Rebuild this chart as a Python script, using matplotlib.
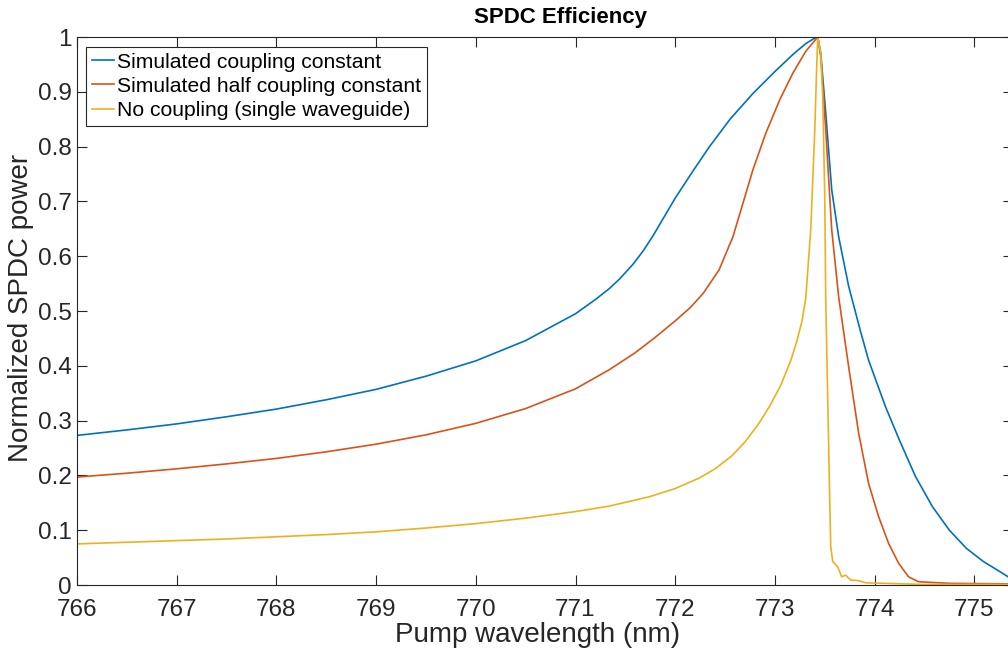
import matplotlib
matplotlib.use("Agg")
import matplotlib.pyplot as plt

plt.rcParams["font.family"] = ["Liberation Sans", "DejaVu Sans"]

# Normalised SPDC output versus pump wavelength, three coupling cases
wl_full = [766.0, 766.5, 767.0, 767.5, 768.0, 768.5, 769.0, 769.5, 770.0, 770.5,
           771.0, 771.2, 771.34, 771.44, 771.58, 771.68, 771.78, 772.0, 772.18, 772.34,
           772.55, 772.78, 773.0, 773.18, 773.31, 773.40, 773.43, 773.46, 773.51, 773.57,
           773.64, 773.74, 773.86, 773.94, 774.11, 774.25, 774.41, 774.58, 774.75, 774.92,
           775.09, 775.26, 775.4]
p_full = [0.273, 0.283, 0.294, 0.307, 0.321, 0.338, 0.357, 0.381, 0.409, 0.446,
          0.495, 0.521, 0.541, 0.558, 0.586, 0.610, 0.638, 0.706, 0.756, 0.799,
          0.850, 0.897, 0.937, 0.968, 0.988, 0.998, 1.000, 0.970, 0.861, 0.721,
          0.635, 0.545, 0.462, 0.410, 0.325, 0.264, 0.198, 0.143, 0.100, 0.067,
          0.043, 0.024, 0.008]

wl_half = [766.0, 766.5, 767.0, 767.5, 768.0, 768.5, 769.0, 769.5, 770.0, 770.5,
           771.0, 771.34, 771.6, 771.8, 772.0, 772.15, 772.28, 772.44, 772.58, 772.68,
           772.78, 772.91, 773.05, 773.18, 773.31, 773.43, 773.46, 773.51, 773.57, 773.64,
           773.74, 773.84, 773.94, 774.04, 774.14, 774.24, 774.34, 774.44, 774.75, 775.4]
p_half = [0.197, 0.204, 0.212, 0.221, 0.231, 0.243, 0.257, 0.274, 0.295, 0.322,
          0.358, 0.393, 0.424, 0.452, 0.482, 0.506, 0.532, 0.575, 0.636, 0.697,
          0.758, 0.825, 0.886, 0.934, 0.974, 1.000, 0.964, 0.830, 0.648, 0.525,
          0.398, 0.277, 0.185, 0.125, 0.076, 0.040, 0.015, 0.006, 0.003, 0.002]

wl_single = [766.0, 766.5, 767.0, 767.5, 768.0, 768.5, 769.0, 769.5, 770.0, 770.5,
             771.0, 771.34, 771.74, 772.0, 772.24, 772.4, 772.57, 772.7, 772.84, 772.95,
             773.06, 773.16, 773.22, 773.27, 773.31, 773.36, 773.40, 773.42, 773.43, 773.46,
             773.48, 773.50, 773.51, 773.53, 773.55, 773.56, 773.58, 773.63, 773.67, 773.71,
             773.76, 773.84, 773.91, 774.11, 774.5, 775.4]
p_single = [0.075, 0.078, 0.081, 0.084, 0.088, 0.092, 0.097, 0.104, 0.112, 0.122,
            0.134, 0.144, 0.161, 0.176, 0.195, 0.212, 0.236, 0.261, 0.295, 0.327,
            0.365, 0.410, 0.445, 0.480, 0.524, 0.650, 0.830, 0.950, 1.000, 0.970,
            0.890, 0.710, 0.520, 0.337, 0.155, 0.070, 0.043, 0.033, 0.015, 0.018,
            0.009, 0.008, 0.004, 0.003, 0.001, 0.001]

labels = ["Simulated coupling constant",
          "Simulated half coupling constant",
          "No coupling (single waveguide)"]
colors = ["#0072BD", "#D95319", "#EDB120"]

W, H = 1008, 660
fig = plt.figure(figsize=(W / 100, H / 100), dpi=100)
ax = fig.add_axes([77 / W, 75 / H, 936 / W, 548 / H])

for x, y, lab, c in zip([wl_full, wl_half, wl_single],
                        [p_full, p_half, p_single], labels, colors):
    ax.plot(x, y, color=c, lw=1.2, label=lab)

axc = "#262626"
ax.set_xlim(766, 766 + 936 / 99.7)
ax.set_ylim(0, 1)
ax.set_xticks(range(766, 776))
ax.set_yticks([i / 10 for i in range(11)])
ax.set_yticklabels(["0"] + [f"0.{i}" for i in range(1, 10)] + ["1"])
ax.tick_params(direction="in", length=7, width=0.8, colors=axc, labelsize=17.5,
               top=True, right=True)
ax.tick_params(axis="x", pad=10)
ax.tick_params(axis="y", pad=4)
for s in ax.spines.values():
    s.set_color(axc)
    s.set_linewidth(0.8)

ax.set_xlabel("Pump wavelength (nm)", fontsize=20, color=axc)
ax.xaxis.set_label_coords((538 - 77) / 936, -0.068)
ax.set_ylabel("Normalized SPDC power", fontsize=20, color=axc)
ax.yaxis.set_label_coords(-(77 - 34) / 936, (585 - 308) / 548)
fig.text(561 / W, 1 - 17 / H, "SPDC Efficiency", fontsize=16, fontweight="bold",
         ha="center", va="center")

leg = ax.legend(loc="upper left", bbox_to_anchor=(0.0096, 0.982), fontsize=15.2,
                handlelength=1.05, handletextpad=0.15, borderpad=0.28,
                labelspacing=0.24, borderaxespad=0, fancybox=False, framealpha=1)
leg.get_frame().set_edgecolor(axc)
leg.get_frame().set_linewidth(0.8)

fig.savefig("out.png", dpi=100)
